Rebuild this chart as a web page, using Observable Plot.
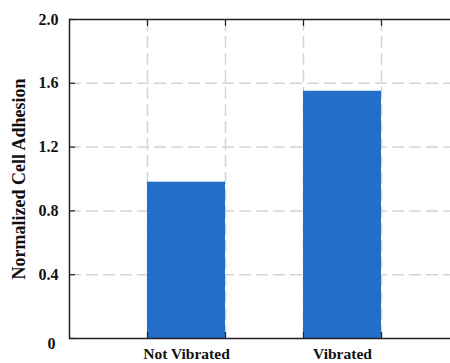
<!DOCTYPE html>
<html><head><meta charset="utf-8">
<script src="https://cdn.jsdelivr.net/npm/d3@7"></script>
<script src="https://cdn.jsdelivr.net/npm/@observablehq/plot@0.6"></script>
<style>body{margin:0;background:#fff;overflow:hidden} svg{display:block}</style>
</head><body><div id="chart"></div>
<script>
const categories = ["Not Vibrated", "Vibrated"];
const values = [0.98, 1.55];
const barStart = [1, 3];
const yTicks = [0, 0.4, 0.8, 1.2, 1.6, 2.0];
const yGrid = [0.4, 0.8, 1.2, 1.6];
const xTicks = [1, 2, 3, 4];
const yLabel = "Normalized Cell Adhesion";

const data = categories.map((c, i) => ({category: c, value: values[i], x1: barStart[i], x2: barStart[i] + 1}));
const centers = data.map(d => (d.x1 + d.x2) / 2);
const font = "Liberation Serif, Times New Roman, serif";

const chart = Plot.plot({
  width: 450,
  height: 363,
  marginLeft: 69,
  marginRight: -9,
  marginTop: 19,
  marginBottom: 25,
  style: {fontFamily: font, fontWeight: "bold", fontSize: "15px", background: "#fff", color: "#111", overflow: "visible"},
  x: {domain: [0, 5], axis: null},
  y: {domain: [0, 2], axis: null},
  marks: [
    Plot.gridY(yGrid, {stroke: "#d4d4d4", strokeOpacity: 1, strokeWidth: 1.5, strokeDasharray: "12,5"}),
    Plot.gridX(xTicks, {stroke: "#d4d4d4", strokeOpacity: 1, strokeWidth: 1.5, strokeDasharray: "12,5"}),
    Plot.rectY(data, {x1: "x1", x2: "x2", y: "value", fill: "#246dc8"}),
    Plot.axisY(yTicks.filter(d => d > 0), {anchor: "left", label: null, tickSize: 0, tickPadding: 11, tickFormat: d => d.toFixed(1), fontSize: 16}),
    Plot.axisY([0], {anchor: "left", label: null, tickSize: 0, tickPadding: 14, dy: 5, tickFormat: d => "0", fontSize: 16}),
    Plot.axisY(yTicks, {anchor: "left", tickSize: -6, text: null, label: null, stroke: "#222", strokeWidth: 1.2}),
    Plot.axisY(yTicks, {anchor: "right", tickSize: -6, text: null, label: null, stroke: "#222", strokeWidth: 1.2}),
    Plot.axisX(xTicks, {anchor: "bottom", tickSize: -6, text: null, label: null, stroke: "#222", strokeWidth: 1.2}),
    Plot.axisX(xTicks, {anchor: "top", tickSize: -6, text: null, label: null, stroke: "#222", strokeWidth: 1.2}),
    Plot.axisX(centers, {anchor: "bottom", tickSize: 0, tickPadding: 9, tickFormat: (d, i) => categories[centers.indexOf(d)], fontSize: 15.5, label: null}),
    Plot.frame({stroke: "#222", strokeWidth: 1.5}),
    Plot.axisY({anchor: "left", label: yLabel, labelAnchor: "center", labelOffset: 57, labelArrow: "none", ticks: [], tickSize: 0, fontSize: 18})
  ]
});
document.getElementById("chart").append(chart);
</script>
</body></html>
